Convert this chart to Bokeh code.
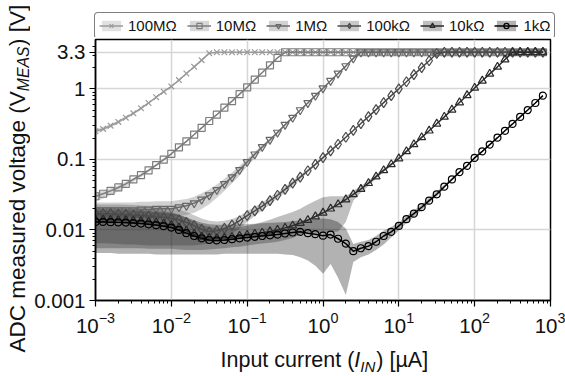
import math
from bokeh.plotting import figure
from bokeh.layouts import row, column
from bokeh.models import Range1d, FixedTicker, Legend, LegendItem, Label
from bokeh.embed import file_html
from bokeh.resources import INLINE

FONT = "Liberation Sans"

# ---------------- data ----------------
I_UA = [0.001, 0.00126, 0.00158, 0.002, 0.00251, 0.00316, 0.00398, 0.00501, 0.00631, 0.00794,
        0.01, 0.0126, 0.0158, 0.02, 0.0251, 0.0316, 0.0398, 0.0501, 0.0631, 0.0794,
        0.1, 0.126, 0.158, 0.2, 0.251, 0.316, 0.398, 0.501, 0.631, 0.794,
        1, 1.26, 1.58, 2, 2.51, 3.16, 3.98, 5.01, 6.31, 7.94,
        10, 12.6, 15.8, 20, 25.1, 31.6, 39.8, 50.1, 63.1, 79.4,
        100, 126, 158, 200, 251, 316, 398, 501, 631, 794]

LABELS = ["100M\u03a9", "10M\u03a9", "1M\u03a9", "100k\u03a9", "10k\u03a9", "1k\u03a9"]

v_100M = [0.25, 0.27, 0.30, 0.34, 0.39, 0.45, 0.53, 0.63, 0.76, 0.91,
          1.08, 1.33, 1.65, 2.05, 2.55, 3.2] + [3.3] * 44
lo_100M = [0.23, 0.25, 0.28, 0.32, 0.37, 0.43, 0.51, 0.61, 0.74, 0.89,
           1.06, 1.31, 1.63, 2.03, 2.53, 3.18] + [3.3] * 44
hi_100M = [0.27, 0.29, 0.32, 0.36, 0.41, 0.47, 0.55, 0.65, 0.78, 0.93,
           1.10, 1.35, 1.67, 2.07, 2.57, 3.22] + [3.3] * 44

v_10M = [0.030, 0.0326, 0.0358, 0.040, 0.045, 0.052, 0.060, 0.070, 0.083, 0.099,
         0.12, 0.148, 0.18, 0.225, 0.28, 0.35, 0.43, 0.54, 0.67, 0.84,
         1.05, 1.35, 1.7, 2.15, 2.75] + [3.3] * 35
lo_10M = [0.025, 0.028, 0.031, 0.035, 0.041, 0.048, 0.056, 0.066, 0.079, 0.095,
          0.116, 0.144, 0.176, 0.221, 0.276, 0.346, 0.426, 0.536, 0.666, 0.836,
          1.046, 1.346, 1.696, 2.146, 2.746] + [3.3] * 35
hi_10M = [0.034, 0.036, 0.039, 0.043, 0.048, 0.055, 0.063, 0.073, 0.086, 0.102,
          0.124, 0.152, 0.184, 0.229, 0.284, 0.354, 0.434, 0.544, 0.674, 0.844,
          1.054, 1.354, 1.704, 2.154, 2.754] + [3.3] * 35

v_1M = [0.019, 0.019, 0.019, 0.019, 0.019, 0.019, 0.0195, 0.0195, 0.020, 0.020,
        0.020, 0.021, 0.022, 0.024, 0.027, 0.031, 0.037, 0.045, 0.056, 0.071,
        0.092, 0.118, 0.15, 0.19, 0.24, 0.31, 0.39, 0.50, 0.63, 0.80,
        1.02, 1.3, 1.65, 2.1, 2.7] + [3.3] * 25
lo_1M = [0.0145, 0.0145, 0.0145, 0.0145, 0.0145, 0.0145, 0.015, 0.015, 0.0153, 0.0153,
         0.0153, 0.0158, 0.0163, 0.0175, 0.0198, 0.0232, 0.0285, 0.0355, 0.0455, 0.059,
         0.08, 0.105, 0.137, 0.177, 0.227, 0.297, 0.377, 0.487, 0.617, 0.787,
         1.007, 1.287, 1.637, 2.087, 2.687] + [3.3] * 25
hi_1M = [0.0245, 0.0245, 0.0245, 0.0245, 0.0245, 0.0245, 0.025, 0.025, 0.0255, 0.0255,
         0.0255, 0.0265, 0.0275, 0.0295, 0.033, 0.0375, 0.044, 0.053, 0.065, 0.081,
         0.102, 0.128, 0.16, 0.20, 0.25, 0.32, 0.40, 0.51, 0.64, 0.81,
         1.03, 1.31, 1.66, 2.11, 2.71] + [3.3] * 25

v_100k = [0.017, 0.017, 0.017, 0.0168, 0.0166, 0.0163, 0.016, 0.0157, 0.0153, 0.015,
          0.0145, 0.0138, 0.0128, 0.0115, 0.0102, 0.0094, 0.0097, 0.0105, 0.0117, 0.0135,
          0.016, 0.0186, 0.0218, 0.026, 0.031, 0.0376, 0.046, 0.056, 0.069, 0.085,
          0.106, 0.132, 0.164, 0.206, 0.257, 0.322, 0.404, 0.507, 0.637, 0.80,
          1.0, 1.26, 1.59, 2.0, 2.5, 3.17] + [3.3] * 14
lo_100k = [0.0065, 0.0065, 0.0064, 0.0063, 0.0062, 0.0062, 0.0061, 0.006, 0.006, 0.006,
           0.006, 0.006, 0.006, 0.006, 0.0062, 0.0065, 0.007, 0.0078, 0.0088, 0.0105,
           0.013, 0.0158, 0.019, 0.023, 0.028, 0.034, 0.042, 0.052, 0.065, 0.081,
           0.102, 0.128, 0.16, 0.202, 0.253, 0.318, 0.40, 0.503, 0.633, 0.796,
           0.996, 1.256, 1.586, 1.996, 2.496, 3.166] + [3.3] * 14
hi_100k = [0.023, 0.023, 0.023, 0.023, 0.0228, 0.0225, 0.0222, 0.022, 0.0216, 0.0212,
           0.0205, 0.0195, 0.018, 0.0162, 0.0145, 0.0135, 0.0132, 0.0135, 0.0143, 0.0158,
           0.0185, 0.0212, 0.0245, 0.029, 0.034, 0.041, 0.05, 0.06, 0.073, 0.089,
           0.11, 0.136, 0.168, 0.21, 0.261, 0.326, 0.408, 0.511, 0.641, 0.804,
           1.004, 1.264, 1.594, 2.004, 2.504, 3.174] + [3.3] * 14

v_10k = [0.0140, 0.0140, 0.0139, 0.0138, 0.0137, 0.0135, 0.0133, 0.0130, 0.0127, 0.0123,
         0.0117, 0.0108, 0.0097, 0.0087, 0.0080, 0.0077, 0.0076, 0.0077, 0.0079, 0.0082,
         0.0085, 0.0088, 0.0091, 0.0095, 0.0100, 0.0107, 0.0115, 0.0125, 0.0138, 0.0155,
         0.0175, 0.020, 0.023, 0.027, 0.032, 0.038, 0.046, 0.057, 0.070, 0.085,
         0.103, 0.13, 0.163, 0.205, 0.255, 0.32, 0.40, 0.505, 0.64, 0.81,
         1.03, 1.3, 1.63, 2.05, 2.6, 3.27] + [3.3] * 4
lo_10k = [0.0055, 0.0055, 0.0055, 0.0055, 0.0055, 0.0055, 0.0055, 0.0054, 0.0054, 0.0054,
          0.0054, 0.0053, 0.0052, 0.0052, 0.0052, 0.0053, 0.0054, 0.0055, 0.0057, 0.0058,
          0.006, 0.0062, 0.0064, 0.0066, 0.0068, 0.0072, 0.0077, 0.0086, 0.0092, 0.0092,
          0.0092, 0.0093, 0.0095, 0.013, 0.026, 0.034, 0.042, 0.053, 0.066, 0.081,
          0.099, 0.126, 0.159, 0.201, 0.251, 0.316, 0.396, 0.501, 0.636, 0.806,
          1.026, 1.296, 1.626, 2.046, 2.596, 3.266] + [3.3] * 4
hi_10k = [0.021, 0.021, 0.021, 0.021, 0.0208, 0.0205, 0.0202, 0.0198, 0.0193, 0.0187,
          0.018, 0.0165, 0.015, 0.013, 0.0118, 0.011, 0.0105, 0.0105, 0.0107, 0.011,
          0.0115, 0.012, 0.013, 0.014, 0.0152, 0.0165, 0.018, 0.020, 0.023, 0.026,
          0.029, 0.030, 0.030, 0.030, 0.036, 0.042, 0.050, 0.061, 0.074, 0.089,
          0.107, 0.134, 0.167, 0.209, 0.259, 0.324, 0.404, 0.509, 0.644, 0.814,
          1.034, 1.304, 1.634, 2.054, 2.604, 3.274] + [3.3] * 4

v_1k = [0.0130, 0.0130, 0.0129, 0.0128, 0.0127, 0.0125, 0.0123, 0.0120, 0.0117, 0.0113,
        0.0108, 0.0100, 0.0090, 0.0082, 0.0076, 0.0072, 0.0071, 0.0072, 0.0074, 0.0076,
        0.0078, 0.0080, 0.0082, 0.0084, 0.0086, 0.0089, 0.0092, 0.0094, 0.0090, 0.0087,
        0.0083, 0.0086, 0.0075, 0.0064, 0.0050, 0.0055, 0.0059, 0.0068, 0.0082, 0.0094,
        0.0114, 0.0142, 0.0170, 0.021, 0.026, 0.032, 0.041, 0.052, 0.066, 0.081,
        0.105, 0.13, 0.162, 0.203, 0.254, 0.318, 0.40, 0.50, 0.63, 0.80]
lo_1k = [0.0047, 0.0047, 0.0047, 0.0046, 0.0046, 0.0046, 0.0046, 0.0046, 0.0045, 0.0045,
         0.0045, 0.0045, 0.0045, 0.0045, 0.0045, 0.0045, 0.0045, 0.0046, 0.0046, 0.0046,
         0.0046, 0.0046, 0.0046, 0.0046, 0.0046, 0.0045, 0.0044, 0.0041, 0.0037, 0.0031,
         0.0024, 0.0033, 0.0021, 0.0012, 0.0035, 0.0041, 0.0045, 0.0052, 0.0062, 0.0078,
         0.0098, 0.0125, 0.0152, 0.019, 0.024, 0.030, 0.039, 0.050, 0.064, 0.079,
         0.103, 0.128, 0.16, 0.201, 0.252, 0.316, 0.398, 0.498, 0.628, 0.798]
hi_1k = [0.019, 0.019, 0.019, 0.019, 0.019, 0.0188, 0.0186, 0.0183, 0.018, 0.0177,
         0.0172, 0.0163, 0.015, 0.0137, 0.0126, 0.012, 0.0118, 0.0118, 0.0119, 0.012,
         0.012, 0.0122, 0.0124, 0.0126, 0.0128, 0.013, 0.0133, 0.0137, 0.014, 0.0142,
         0.0145, 0.0142, 0.013, 0.0105, 0.0063, 0.0068, 0.0072, 0.0082, 0.0097, 0.011,
         0.0128, 0.0158, 0.0188, 0.023, 0.0285, 0.035, 0.044, 0.055, 0.069, 0.084,
         0.108, 0.133, 0.165, 0.206, 0.257, 0.321, 0.403, 0.503, 0.633, 0.803]

X_TICKS = [0.001, 0.01, 0.1, 1, 10, 100, 1000]
Y_TICKS = [0.001, 0.01, 0.1, 1, 3.3]
Y_TICK_LABELS = ["0.001", "0.01", "0.1", "1", "3.3"]

VALUES = [v_100M, v_10M, v_1M, v_100k, v_10k, v_1k]
LOWS = [lo_100M, lo_10M, lo_1M, lo_100k, lo_10k, lo_1k]
HIGHS = [hi_100M, hi_10M, hi_1M, hi_100k, hi_10k, hi_1k]

# ---------------- styles ----------------
COLORS = ["#9a9a9a", "#7c7c7c", "#686868", "#4a4a4a", "#2a2a2a", "#000000"]
MARKERS = ["x", "square", "inverted_triangle", "diamond", "triangle", "circle"]
MSIZES = [8, 7, 8, 10, 8, 7]
TXT = "#111111"

W_Y = 30          # y-title strip (page x 0..30)
W_MAIN = 535      # main column (page x 30..565)
H_LEG = 37
H_MAIN = 305
H_X = 34
H_ALL = H_LEG + H_MAIN + H_X


def add_series(fig):
    bands, lines, marks = [], [], []
    for i in range(6):
        bands.append(fig.varea(x=I_UA, y1=LOWS[i], y2=HIGHS[i], fill_color=COLORS[i], fill_alpha=0.3))
    for i in range(6):
        lines.append(fig.line(I_UA, VALUES[i], line_color=COLORS[i], line_width=1.5))
        marks.append(fig.scatter(I_UA, VALUES[i], marker=MARKERS[i], size=MSIZES[i],
                                 line_color=COLORS[i], line_width=1.2, fill_alpha=0))
    return bands, lines, marks


# ---------------- main plot ----------------
p = figure(width=W_MAIN, height=H_MAIN, x_axis_type="log", y_axis_type="log",
           x_range=Range1d(1e-3, 1e3), y_range=Range1d(1e-3, 5),
           output_backend="svg", toolbar_location=None, title=None, frame_align=False,
           min_border_left=65, min_border_right=15, min_border_top=2, min_border_bottom=42)
p.background_fill_color = "white"
p.border_fill_color = "white"
p.outline_line_color = "black"
p.outline_line_width = 1.5

x_minor = [m * 10.0 ** e for e in range(-3, 3) for m in range(2, 10)]
y_minor = [m * 10.0 ** e for e in range(-3, 0) for m in range(2, 10)] + [2, 3, 4]
p.xaxis.ticker = FixedTicker(ticks=X_TICKS, minor_ticks=x_minor)
p.yaxis.ticker = FixedTicker(ticks=Y_TICKS, minor_ticks=y_minor)
p.yaxis.major_label_overrides = dict(zip(Y_TICKS, Y_TICK_LABELS))

for ax in (p.xaxis, p.yaxis):
    ax.axis_line_color = "black"
    ax.axis_line_width = 1.5
    ax.major_tick_line_color = "black"
    ax.major_tick_line_width = 1.2
    ax.minor_tick_line_color = "black"
    ax.minor_tick_line_width = 1
    ax.major_tick_out = 6
    ax.major_tick_in = 0
    ax.minor_tick_out = 3
    ax.minor_tick_in = 0
    ax.major_label_text_font = FONT
    ax.major_label_text_font_size = "20.5px"
    ax.major_label_text_color = TXT
p.xaxis.major_label_standoff = 5
p.yaxis.major_label_standoff = 4
p.grid.grid_line_color = "#d6d6d6"
p.grid.grid_line_width = 1.5

add_series(p)


def blank(w, h, **kw):
    f = figure(width=w, height=h, output_backend="svg", toolbar_location=None, title=None,
               x_axis_location=None, y_axis_location=None, min_border=0, frame_align=False, **kw)
    f.grid.visible = False
    f.outline_line_color = None
    f.background_fill_color = "white"
    f.border_fill_color = "white"
    return f


# ---------------- legend strip (same series, plotted out of view) ----------------
fl = blank(W_MAIN, H_LEG, x_axis_type="log", y_axis_type="log",
           x_range=Range1d(1e-3, 1e3), y_range=Range1d(1e3, 1e4))
lb, ll, lm = add_series(fl)
items = [LegendItem(label=LABELS[i], renderers=[lb[i], ll[i], lm[i]]) for i in range(6)]
legend = Legend(items=items, orientation="horizontal", location=(64, -2),
                label_text_font=FONT, label_text_font_size="15px", label_text_color=TXT,
                glyph_width=24, glyph_height=13, label_height=16, label_standoff=5,
                spacing=10, padding=4, margin=0,
                border_line_color="black", border_line_width=1.5, border_radius=4,
                background_fill_color="white", background_fill_alpha=1)
fl.add_layout(legend, "center")

# ---------------- y-axis title (reads bottom to top) ----------------
F = 22.5
FS = 15.75
fy = blank(W_Y, H_ALL, x_range=Range1d(0, W_Y), y_range=Range1d(0, H_ALL))
ang = math.pi / 2
mx = 16.5          # middle line of the main text
sx = 22.5          # middle line of the subscript (shifted towards the text's bottom)
y0 = 24
fy.add_layout(Label(x=mx, y=y0, angle=ang,
                    text="ADC measured voltage (V", text_font=FONT, text_font_size=f"{F}px",
                    text_align="left", text_baseline="middle", text_color=TXT))
fy.add_layout(Label(x=sx, y=y0 + 11.615 * F, angle=ang,
                    text="MEAS", text_font=FONT, text_font_size=f"{FS}px", text_font_style="italic",
                    text_align="left", text_baseline="middle", text_color=TXT))
fy.add_layout(Label(x=mx, y=y0 + 11.615 * F + 2.834 * FS + 0.5, angle=ang,
                    text=") [V]", text_font=FONT, text_font_size=f"{F}px",
                    text_align="left", text_baseline="middle", text_color=TXT))

# ---------------- x-axis title ----------------
FX = 21.5
FXS = 15.05
fx = blank(W_MAIN, H_X, x_range=Range1d(0, W_MAIN), y_range=Range1d(0, H_X))
xl0 = 190
my = 16.5          # middle line of the main text (from the strip bottom)
sy = 10.5          # middle line of the subscript
fx.add_layout(Label(x=xl0, y=my,
                    text="Input current (", text_font=FONT, text_font_size=f"{FX}px",
                    text_align="left", text_baseline="middle", text_color=TXT))
fx.add_layout(Label(x=xl0 + 6.225 * FX, y=my,
                    text="I", text_font=FONT, text_font_size=f"{FX}px", text_font_style="italic",
                    text_align="left", text_baseline="middle", text_color=TXT))
fx.add_layout(Label(x=xl0 + 6.503 * FX, y=sy,
                    text="IN", text_font=FONT, text_font_size=f"{FXS}px", text_font_style="italic",
                    text_align="left", text_baseline="middle", text_color=TXT))
fx.add_layout(Label(x=xl0 + 6.503 * FX + 1.0 * FXS + 1, y=my,
                    text=") [\u00b5A]", text_font=FONT, text_font_size=f"{FX}px",
                    text_align="left", text_baseline="middle", text_color=TXT))

layout = row(fy, column(fl, p, fx, spacing=0), spacing=0)

open("out.html", "w").write(file_html(layout, INLINE))
